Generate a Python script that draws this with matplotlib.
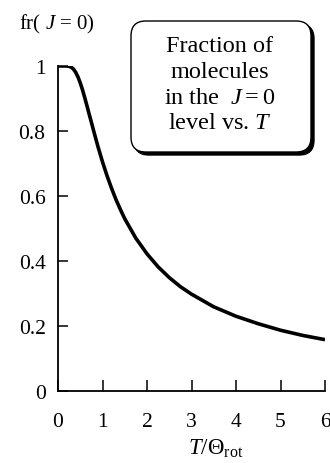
import matplotlib
matplotlib.use("Agg")
import matplotlib.pyplot as plt
from matplotlib.patches import FancyBboxPatch

# --- Data ---
t_ratio = [0, 0.1, 0.2, 0.25, 0.3, 0.35, 0.4, 0.45, 0.5, 0.55, 0.6, 0.65,
           0.7, 0.75, 0.8, 0.9, 1.0, 1.1, 1.2, 1.3, 1.4, 1.5, 1.75,
           2.0, 2.25, 2.5, 2.75, 3.0, 3.5, 4.0, 4.5, 5.0, 5.5, 6.0]
frac_j0 = [1.0, 1.0, 1.0, 0.999, 0.996, 0.99, 0.98, 0.966, 0.948, 0.927,
           0.903, 0.878, 0.852, 0.827, 0.801, 0.751, 0.705, 0.663, 0.625,
           0.59, 0.559, 0.53, 0.47, 0.422, 0.382, 0.349, 0.321, 0.298,
           0.259, 0.23, 0.207, 0.187, 0.171, 0.158]
x_ticks = [0, 1, 2, 3, 4, 5, 6]
y_ticks = [0, 0.2, 0.4, 0.6, 0.8, 1.0]
y_tick_labels = ["0", "0.2", "0.4", "0.6", "0.8", "1"]
box_lines = ["Fraction of", "molecules", "in the  $J = 0$", "level vs. $T$"]

plt.rcParams["font.family"] = ["Liberation Serif", "DejaVu Serif"]
plt.rcParams["mathtext.fontset"] = "custom"
plt.rcParams["mathtext.rm"] = "Liberation Serif"
plt.rcParams["mathtext.it"] = "Liberation Serif:italic"

W, H = 330, 464
fig = plt.figure(figsize=(W / 100, H / 100), dpi=100)


def fx(px):
    return px / W


def fy(py):
    return 1 - py / H


ax = fig.add_axes([fx(58), fy(392), fx(325) - fx(58), fy(67) - fy(392)])
ax.plot(t_ratio, frac_j0, color="black", lw=2.6, solid_capstyle="butt")
ax.set_xlim(0, 6)
ax.set_ylim(0, 1)
for s in ("top", "right"):
    ax.spines[s].set_visible(False)
for s in ("left", "bottom"):
    ax.spines[s].set_linewidth(1.3)
ax.set_xticks(x_ticks)
ax.set_xticklabels([str(v) for v in x_ticks])
ax.set_yticks(y_ticks)
ax.set_yticklabels(y_tick_labels)
ax.tick_params(axis="x", direction="in", length=8, width=1.1, pad=15, labelsize=15.5)
ax.tick_params(axis="y", direction="in", length=7.5, width=1.1, pad=9, labelsize=15.5)

# axis titles
fig.text(fx(19), fy(24), "fr( $J$ = 0)", ha="left", va="center", fontsize=15)
fig.text(fx(216), fy(449), r"$T/\Theta_{\mathrm{rot}}$", ha="center", va="center", fontsize=16.5)

# annotation box with drop shadow
bx0, by0, bx1, by1 = 131, 22, 311, 153
shadow = FancyBboxPatch((fx(bx0 + 3), fy(by1 + 3)), fx(bx1) - fx(bx0), fy(by0) - fy(by1),
                        boxstyle="round,pad=0,rounding_size=0.045",
                        transform=fig.transFigure, facecolor="black", edgecolor="black",
                        lw=1.0, mutation_aspect=W / H)
box = FancyBboxPatch((fx(bx0), fy(by1)), fx(bx1) - fx(bx0), fy(by0) - fy(by1),
                     boxstyle="round,pad=0,rounding_size=0.045",
                     transform=fig.transFigure, facecolor="white", edgecolor="black",
                     lw=1.0, mutation_aspect=W / H)
fig.patches.extend([shadow, box])
for i, line in enumerate(box_lines):
    fig.text(fx(220), fy(46 + i * 26), line, ha="center", va="center", fontsize=17.5)

fig.savefig("out.png", dpi=100)
